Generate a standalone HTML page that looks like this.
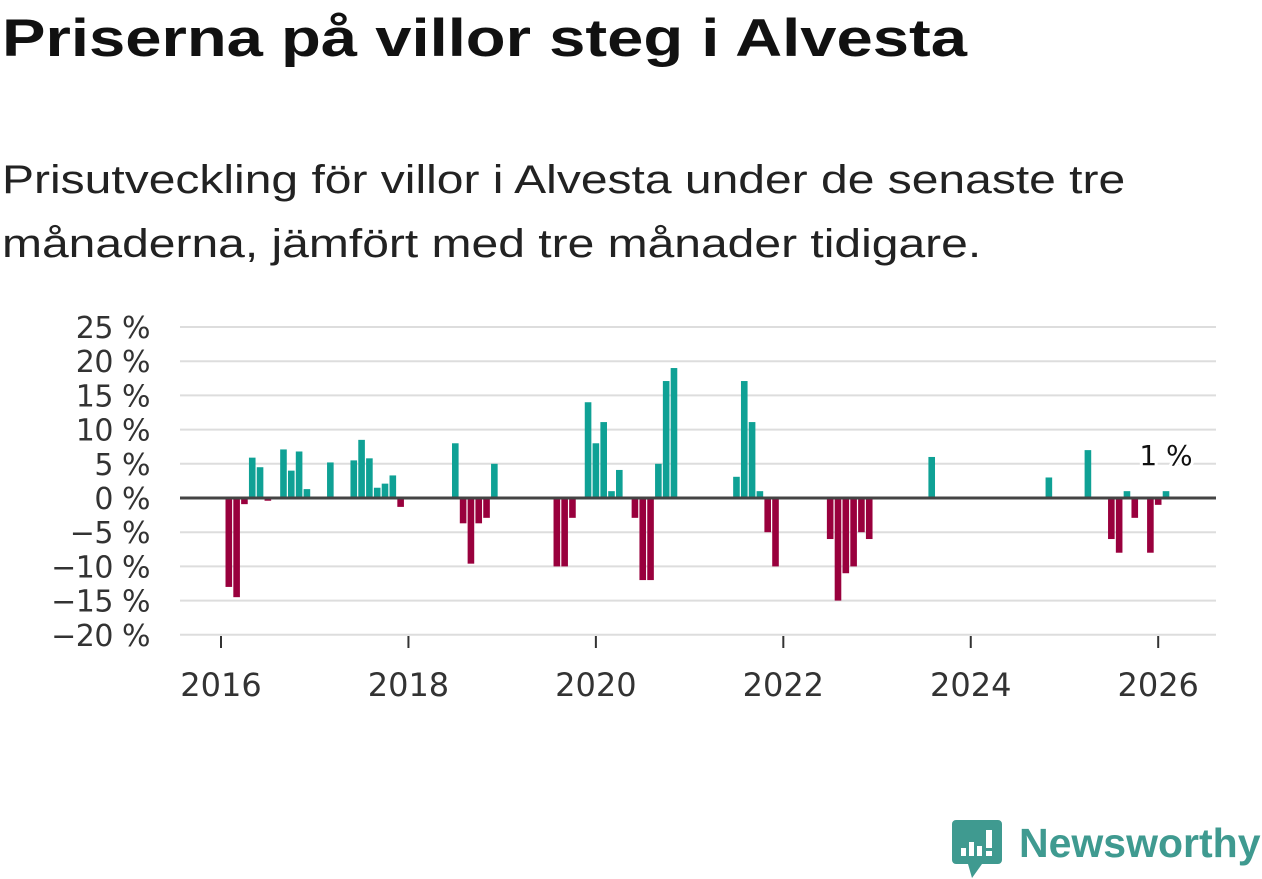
<!DOCTYPE html>
<html><head><meta charset="utf-8"><style>
body{margin:0;width:1262px;height:879px;background:#fff;font-family:"Liberation Sans","DejaVu Sans",sans-serif;overflow:hidden;position:relative}
h1{position:absolute;left:2px;top:8px;margin:0;font-size:53px;font-weight:bold;color:#111;transform:scaleX(1.23);transform-origin:0 0;white-space:nowrap}
.sub{position:absolute;left:2px;top:148px;margin:0;font-size:40px;line-height:64px;color:#222;transform:scaleX(1.2);transform-origin:0 0;white-space:nowrap}
svg{position:absolute;left:0;top:0}
</style></head><body>
<h1>Priserna på villor steg i Alvesta</h1>
<p class="sub">Prisutveckling för villor i Alvesta under de senaste tre<br>månaderna, jämfört med tre månader tidigare.</p>
<svg id="c" width="1262" height="879"></svg>
<div style="position:absolute;left:952px;top:820px;width:310px;height:58px">
<svg width="50" height="58" viewBox="0 0 50 58" style="left:0;top:0"><path d="M4 0h42a4 4 0 0 1 4 4v36a4 4 0 0 1-4 4H30l-10 14-4-14H4a4 4 0 0 1-4-4V4a4 4 0 0 1 4-4z" fill="#3f9a90"/><rect x="9" y="28" width="5" height="8" fill="#fff"/><rect x="17" y="22" width="5" height="14" fill="#fff"/><rect x="25" y="26" width="5" height="10" fill="#fff"/><rect x="34" y="10" width="6" height="18" fill="#fff"/><rect x="34" y="31" width="6" height="5" fill="#fff"/></svg>
<span style="position:absolute;left:67px;top:0px;font-size:41px;font-weight:bold;color:#3f9a90;white-space:nowrap">Newsworthy</span>
</div>
<script>
const months=[1,2,3,4,5,6,8,9,10,11,14,17,18,19,20,21,22,23,30,31,32,33,34,35,43,44,45,47,48,49,50,51,53,54,55,56,57,58,66,67,68,69,70,71,78,79,80,81,82,83,91,106,111,114,115,116,117,119,120,121];
const values=[-13,-14.5,-0.9,5.9,4.5,-0.4,7.1,4,6.8,1.3,5.2,5.5,8.5,5.8,1.5,2.1,3.3,-1.3,8,-3.7,-9.6,-3.7,-2.9,5,-10,-10,-2.9,14,8,11.1,1,4.1,-2.9,-12,-12,5,17.1,19,3.1,17.1,11.1,1,-5,-10,-6,-15,-11,-10,-5,-6,6,3,7,-6,-8,1,-2.9,-8,-1,1];
const yTicks=[25,20,15,10,5,0,-5,-10,-15,-20];
const xYears=[2016,2018,2020,2022,2024,2026];
const svg=document.getElementById('c');const NS='http://www.w3.org/2000/svg';
const y=v=>498-v*6.84;
const x=m=>221+m*7.81;
function el(t,a){const e=document.createElementNS(NS,t);for(const k in a)e.setAttribute(k,a[k]);svg.appendChild(e);return e;}
yTicks.forEach(t=>{
 const g=el('line',{x1:180,x2:1216,y1:y(t),y2:y(t),stroke:'#ddd','stroke-width':2});
 
 
 const l=el('text',{x:150,y:y(t)+11,'text-anchor':'end','font-size':30,fill:'#333','font-family':'DejaVu Sans, sans-serif','letter-spacing':-0.5});
 l.textContent=(t<0?'−'+(-t):t)+' %';
 
 
});
xYears.forEach(yr=>{
 const xx=x((yr-2016)*12);
 const t=el('line',{x1:xx,x2:xx,y1:636,y2:648,stroke:'#333','stroke-width':2});
 
 
 const l=el('text',{x:xx,y:696,'text-anchor':'middle','font-size':32,fill:'#333','font-family':'DejaVu Sans, sans-serif'});
 l.textContent=yr;
 
 
});
months.forEach((m,i)=>{
 const v=values[i];
 const r=el('rect',{x:x(m)-3.3,width:6.6,y:Math.min(y(v),y(0)),height:Math.abs(y(v)-y(0)),fill:v>=0?'#0fa195':'#99003d'});
 
 
});
const z=el('line',{x1:180,x2:1216,y1:y(0),y2:y(0),stroke:'#444','stroke-width':3});


const lastM=months[months.length-1],lastV=values[values.length-1];
const lb=el('text',{x:x(lastM),y:y(lastV)-26,'text-anchor':'middle','font-size':28,fill:'#111',stroke:'#fff','stroke-width':6,'paint-order':'stroke','font-family':'DejaVu Sans, sans-serif'});
lb.textContent=Math.round(lastV)+' %';


</script>
</body></html>
